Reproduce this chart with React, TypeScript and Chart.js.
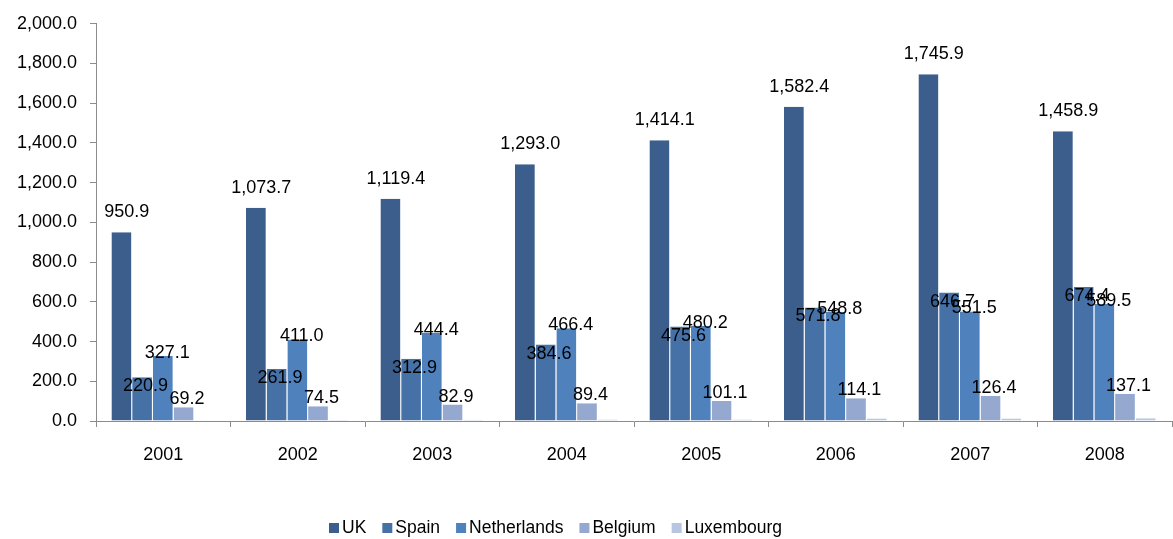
import React, { useEffect, useRef } from "react";
import { Chart, registerables } from "chart.js";

Chart.register(...registerables);

const years = ["2001", "2002", "2003", "2004", "2005", "2006", "2007", "2008"];
const seriesNames = ["UK", "Spain", "Netherlands", "Belgium", "Luxembourg"];
const ukValues = [950.9, 1073.7, 1119.4, 1293.0, 1414.1, 1582.4, 1745.9, 1458.9];
const spainValues = [220.9, 261.9, 312.9, 384.6, 475.6, 571.8, 646.7, 674.4];
const netherlandsValues = [327.1, 411.0, 444.4, 466.4, 480.2, 548.8, 551.5, 589.5];
const belgiumValues = [69.2, 74.5, 82.9, 89.4, 101.1, 114.1, 126.4, 137.1];
const luxembourgValues = [4, 5, 6, 7, 8, 12, 13, 14];
const yMin = 0;
const yMax = 2000;
const yStep = 200;

const colors = ["#3B5E8C", "#4571A7", "#4F81BD", "#95A8D0", "#B9C6E1"];
// per-series label style: offset of the label from the top of its bar, and whether shown
const labelStyles = [
  { show: true, dx: 5, dy: -20 },
  { show: true, dx: 3, dy: 9 },
  { show: true, dx: 4, dy: -3 },
  { show: true, dx: 3, dy: -8 },
  { show: false, dx: 0, dy: 0 },
];

const FONT = "'Liberation Sans', Arial, sans-serif";
const NUM_SIZE = 18;
const LEGEND_SIZE = 17.5;

const fmt = (v: number) =>
  v.toLocaleString("en-US", { minimumFractionDigits: 1, maximumFractionDigits: 1 });

const labelPlugin = {
  id: "barLabels",
  afterDatasetsDraw(chart: any) {
    const ctx = chart.ctx;
    ctx.save();
    ctx.font = `${NUM_SIZE}px ${FONT}`;
    ctx.fillStyle = "#000";
    ctx.textAlign = "center";
    ctx.textBaseline = "middle";
    chart.data.datasets.forEach((ds: any, di: number) => {
      const st = labelStyles[di];
      if (!st.show) return;
      const meta = chart.getDatasetMeta(di);
      meta.data.forEach((el: any, i: number) => {
        ctx.fillText(fmt(ds.data[i]), el.x + st.dx, el.y + st.dy);
      });
    });
    ctx.restore();
  },
};

const legendPlugin = {
  id: "customLegend",
  afterDraw(chart: any) {
    const ctx = chart.ctx;
    ctx.save();
    ctx.font = `${LEGEND_SIZE}px ${FONT}`;
    ctx.textBaseline = "middle";
    ctx.textAlign = "left";
    const box = 10;
    const gap = 3;
    const spacing = 16;
    const cy = 528;
    let x = 329;
    chart.data.datasets.forEach((ds: any) => {
      ctx.fillStyle = ds.backgroundColor;
      ctx.fillRect(x, cy - box / 2, box, box);
      x += box + gap;
      ctx.fillStyle = "#000";
      ctx.fillText(ds.label, x, cy);
      x += ctx.measureText(ds.label).width + spacing;
    });
    ctx.restore();
  },
};

export default function App() {
  const ref = useRef<HTMLCanvasElement | null>(null);

  useEffect(() => {
    document.body.style.margin = "0";
    const seriesValues = [ukValues, spainValues, netherlandsValues, belgiumValues, luxembourgValues];
    const chart = new Chart(ref.current as HTMLCanvasElement, {
      type: "bar",
      data: {
        labels: years,
        datasets: seriesNames.map((name, i) => ({
          label: name,
          data: seriesValues[i],
          backgroundColor: colors[i],
          borderColor: "rgba(255,255,255,0.35)",
          borderWidth: { top: 0, left: 0, bottom: 0, right: 1 },
          categoryPercentage: 0.77,
          barPercentage: 1.0,
        })),
      },
      options: {
        animation: false,
        responsive: false,
        maintainAspectRatio: false,
        layout: { padding: { top: 21, right: 1, left: 0, bottom: 58 } },
        plugins: {
          tooltip: { enabled: false },
          legend: { display: false },
        },
        scales: {
          x: {
            grid: {
              display: true,
              offset: true,
              drawOnChartArea: false,
              drawTicks: true,
              tickLength: 6,
              color: "#8C8C8C",
            },
            border: { display: true, color: "#8C8C8C", width: 1 },
            ticks: {
              color: "#000",
              padding: 17,
              font: { family: FONT, size: NUM_SIZE },
            },
            afterFit: (s: any) => {
              s.height = 60;
            },
          },
          y: {
            min: yMin,
            max: yMax,
            ticks: {
              stepSize: yStep,
              color: "#000",
              padding: 13,
              font: { family: FONT, size: NUM_SIZE },
              callback: (v: any) => fmt(Number(v)),
            },
            grid: {
              display: true,
              drawOnChartArea: false,
              drawTicks: true,
              tickLength: 6,
              color: "#8C8C8C",
            },
            border: { display: true, color: "#8C8C8C", width: 1 },
            afterFit: (s: any) => {
              s.width = 96;
            },
          },
        },
      },
      plugins: [labelPlugin, legendPlugin],
    });
    return () => chart.destroy();
  }, []);

  return (
    <div style={{ width: 1173, height: 539, overflow: "hidden", position: "relative" }}>
      <canvas ref={ref} width={1173} height={539} style={{ display: "block" }} />
    </div>
  );
}
